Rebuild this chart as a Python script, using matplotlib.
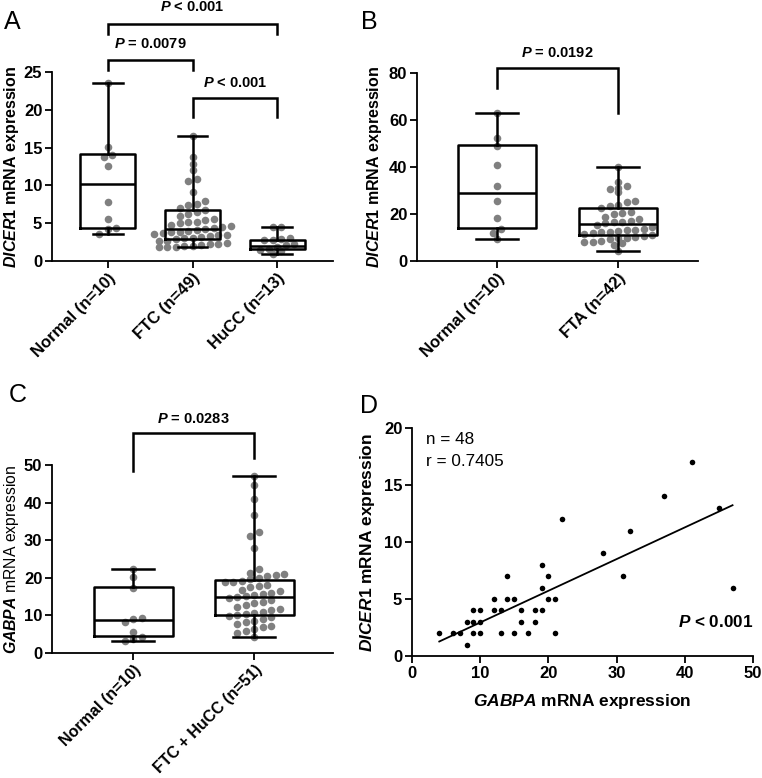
import numpy as np
import matplotlib
matplotlib.use('Agg')
import matplotlib.pyplot as plt

plt.rcParams['font.family'] = ['Liberation Sans', 'DejaVu Sans']
plt.rcParams['font.weight'] = 'bold'
plt.rcParams['mathtext.fontset'] = 'custom'
plt.rcParams['mathtext.it'] = 'Liberation Sans:italic:bold'
plt.rcParams['mathtext.rm'] = 'Liberation Sans:bold'
plt.rcParams['mathtext.bf'] = 'Liberation Sans:bold'
plt.rcParams['mathtext.sf'] = 'Liberation Sans:italic'

# ---------------- data ----------------
# Panel A: DICER1 expression
a_categories = ['Normal (n=10)', 'FTC (n=49)', 'HuCC (n=13)']
a_normal = [23.5, 15.1, 14.0, 13.7, 12.5, 7.8, 5.5, 4.3, 4.2, 3.6]
a_ftc = [16.5, 13.7, 12.8, 12.1, 10.8, 10.6, 9.1, 7.9, 7.6, 7.4, 7.0, 6.8,
         6.5, 6.2, 6.0, 5.6, 5.4, 5.2, 5.1, 5.0, 4.8, 4.6, 4.5, 4.3,
         4.2,
         4.1, 4.0, 3.9, 3.8, 3.7, 3.6, 3.5, 3.4, 3.3, 3.2, 3.1, 3.0,
         2.9, 2.7, 2.6, 2.4, 2.3, 2.2, 2.1, 2.0, 2.0, 1.9, 1.9, 1.85]
a_hucc = [4.5, 4.5, 3.1, 2.9, 2.8, 2.8, 2.2, 2.1, 1.9, 1.6, 1.4, 1.3, 0.95]
a_q1 = [4.4, 2.9, 1.55]
a_median = [10.2, 4.2, 2.05]
a_q3 = [14.1, 6.75, 2.8]

# Panel B: DICER1 expression
b_categories = ['Normal (n=10)', 'FTA (n=42)']
b_normal = [63.0, 52.5, 49.0, 41.0, 32.0, 25.5, 18.5, 13.7, 11.8, 9.4]
b_fta = [40.0, 33.5, 32.0, 31.0, 30.5, 29.5, 25.5, 25.0, 23.8, 23.2,
         22.4, 21.0, 20.5, 19.8, 18.8, 17.8, 17.2, 16.8, 16.5, 16.0,
         15.5, 14.5, 13.8, 13.2, 13.0, 12.8, 12.5, 12.2, 11.8, 11.5, 11.0,
         10.5, 10.2, 10.0, 9.8, 9.5, 8.5, 8.2, 8.0, 7.8, 6.8, 4.2]
b_q1 = [13.9, 11.0]
b_median = [28.8, 15.7]
b_q3 = [49.3, 22.4]

# Panel C: GABPA expression
c_categories = ['Normal (n=10)', 'FTC + HuCC (n=51)']
c_normal = [22.4, 20.1, 17.2, 9.2, 9.0, 8.2, 5.6, 4.3, 3.7, 3.3]
c_tumor = [47.2, 44.6, 41.0, 36.8, 32.2, 31.0, 28.0, 22.3, 21.2, 21.0, 20.8, 20.4, 20.0,
           19.6, 19.2, 19.0, 18.8, 18.2, 17.8, 17.5, 16.8, 16.4, 16.0, 15.8, 15.5, 15.2,
           14.9,
           14.5, 14.2, 13.6, 13.2, 12.8, 12.2, 11.8, 11.4, 11.0, 10.6, 10.4, 10.1,
           9.8, 9.5, 9.0, 8.6, 8.2, 7.6, 7.2, 7.0, 6.5, 5.8, 5.2, 4.2]
c_q1 = [4.5, 10.1]
c_median = [8.8, 14.9]
c_q3 = [17.6, 19.5]

# Panel D: correlation
d_gabpa = [4, 6, 7, 8, 8, 9, 9, 9, 10, 10, 10, 12, 12, 13, 13, 14, 14, 15, 15,
           16, 16, 17, 18, 18, 19, 19, 19, 20, 20, 21, 21, 22, 28, 31, 32, 37, 41, 45, 47]
d_dicer1 = [2, 2, 2, 1, 3, 4, 3, 2, 4, 3, 2, 5, 4, 4, 2, 7, 5, 5, 2,
            4, 3, 2, 4, 3, 8, 6, 4, 7, 5, 5, 2, 12, 9, 7, 11, 14, 17, 13, 6]
d_fit_slope = 0.278
d_fit_intercept = 0.16

# ---------------- styling ----------------
W, H = 762, 778
fig = plt.figure(figsize=(W / 100, H / 100), dpi=100)

def px_axes(left, top, right, bottom):
    return fig.add_axes([left / W, 1 - bottom / H, (right - left) / W, (bottom - top) / H])

DOT = '#808080'
LW = 1.8
TICK_FS = 12
LABEL_FS = 12.5
BR_FS = 10.5


def style(ax):
    for s in ['top', 'right']:
        ax.spines[s].set_visible(False)
    for s in ['left', 'bottom']:
        ax.spines[s].set_linewidth(1.3)
    ax.tick_params(direction='out', length=5, width=1.3, labelsize=TICK_FS, pad=2)


def swarm(ax, xc, values, row_px, step_px):
    """Prism-like scatter: values binned into rows, points in a row spread side by side."""
    vals = np.asarray(values, float)
    ypix = ax.transData.transform(np.column_stack([np.full(len(vals), xc), vals]))[:, 1]
    ppu = ax.transData.transform((1, 0))[0] - ax.transData.transform((0, 0))[0]
    bins = np.floor(ypix / row_px).astype(int)
    offs = np.zeros(len(vals))
    for b in np.unique(bins):
        idx = np.where(bins == b)[0]
        idx = idx[np.argsort(vals[idx])]
        n = len(idx)
        offs[idx] = (np.arange(n) - (n - 1) / 2.0) * step_px
    return xc + offs / ppu


def box_panel(ax, groups, q1, med, q3, xlim, ylim, yticks, cats):
    ax.set_xlim(*xlim)
    ax.set_ylim(*ylim)
    style(ax)
    for i, g in enumerate(groups):
        xs = swarm(ax, i, g, 8.5, 8.5)
        ax.scatter(xs, g, s=30, color=DOT, linewidths=0, zorder=2, clip_on=False)
    stats = []
    for i, g in enumerate(groups):
        stats.append(dict(med=med[i], q1=q1[i], q3=q3[i], whislo=min(g), whishi=max(g), fliers=[]))
    ax.bxp(stats, positions=list(range(len(groups))), widths=0.65, showfliers=False,
           patch_artist=False, manage_ticks=False,
           boxprops=dict(color='k', linewidth=LW),
           medianprops=dict(color='k', linewidth=LW),
           whiskerprops=dict(color='k', linewidth=LW),
           capprops=dict(color='k', linewidth=LW),
           capwidths=0.35, zorder=3)
    ax.set_yticks(yticks)
    ax.set_xticks(list(range(len(groups))))
    ax.set_xticklabels(cats, rotation=45, ha='right', rotation_mode='anchor', fontsize=TICK_FS)


def bracket(ax, x1, x2, y, yl1, yl2, text, ty):
    ax.plot([x1, x1, x2, x2], [yl1, y, y, yl2], color='k', lw=LW, clip_on=False,
            solid_joinstyle='miter', zorder=4)
    ax.text((x1 + x2) / 2, ty, text, ha='center', va='center', fontsize=BR_FS,
            fontweight='bold', clip_on=False)

# Panel A
axA = px_axes(52, 72, 333, 261)
box_panel(axA, [a_normal, a_ftc, a_hucc], a_q1, a_median, a_q3,
          (-0.66, 2.66), (0, 25), [0, 5, 10, 15, 20, 25], a_categories)
axA.set_ylabel(r'$DICER1$ mRNA expression', fontsize=11.5, fontweight='bold')
axA.yaxis.set_label_coords(-0.111, 0.5)
bracket(axA, 0, 1, 26.6, 25.2, 25.2, r'$P$ = 0.0079', 28.7)
bracket(axA, 1, 2, 21.5, 19.0, 19.0, r'$P$ < 0.001', 23.6)
bracket(axA, 0, 2, 31.3, 30.0, 30.0, r'$P$ < 0.001', 33.6)

# Panel B
axB = px_axes(417, 73, 698, 261)
box_panel(axB, [b_normal, b_fta], b_q1, b_median, b_q3,
          (-0.66, 1.66), (0, 80), [0, 20, 40, 60, 80], b_categories)
axB.set_ylabel(r'$DICER1$ mRNA expression', fontsize=11.5, fontweight='bold')
axB.yaxis.set_label_coords(-0.117, 0.5)
bracket(axB, 0, 1, 82.0, 73.5, 62.8, r'$P$ = 0.0192', 88.4)

# Panel C
axC = px_axes(52, 465, 333, 653)
box_panel(axC, [c_normal, c_tumor], c_q1, c_median, c_q3,
          (-0.67, 1.65), (0, 50), [0, 10, 20, 30, 40, 50], c_categories)
for lbl in axC.get_xticklabels():
    lbl.set_fontsize(11.5)
axC.set_ylabel(r'$\mathsf{GABPA}$ mRNA expression', fontsize=11.3, fontweight='normal')
axC.yaxis.set_label_coords(-0.111, 0.5)
bracket(axC, 0, 1, 58.6, 48.5, 51.9, r'$P$ = 0.0283', 62.2)

# Panel D
axD = px_axes(412, 428, 753, 656)
axD.set_xlim(0, 50)
axD.set_ylim(0, 20)
style(axD)
axD.scatter(d_gabpa, d_dicer1, s=16, color='k', linewidths=0, zorder=3, clip_on=False)
fx = np.array([min(d_gabpa), max(d_gabpa)], float)
axD.plot(fx, d_fit_slope * fx + d_fit_intercept, color='k', lw=1.3, zorder=2)
axD.set_xticks([0, 10, 20, 30, 40, 50])
axD.set_yticks([0, 5, 10, 15, 20])
axD.set_xlabel(r'$GABPA$ mRNA expression', fontsize=LABEL_FS, fontweight='bold')
axD.set_ylabel(r'$DICER1$ mRNA expression', fontsize=LABEL_FS, fontweight='bold')
axD.yaxis.set_label_coords(-0.102, 0.5)
axD.xaxis.set_label_coords(0.5, -0.16)
axD.text(2, 19.0, 'n = 48', fontsize=12.3, fontweight='normal', ha='left', va='center')
axD.text(2, 17.1, 'r = 0.7405', fontsize=12.3, fontweight='normal', ha='left', va='center')
axD.text(50, 3.0, r'$P$ < 0.001', fontsize=12.3, fontweight='bold', ha='right', va='center')

# Panel letters
for letter, x, y in [('A', 4, 22), ('B', 361, 22), ('C', 9, 395), ('D', 360, 406)]:
    fig.text(x / W, 1 - y / H, letter, fontsize=18, fontweight='normal', ha='left', va='center')

fig.savefig('out.png', dpi=100)
